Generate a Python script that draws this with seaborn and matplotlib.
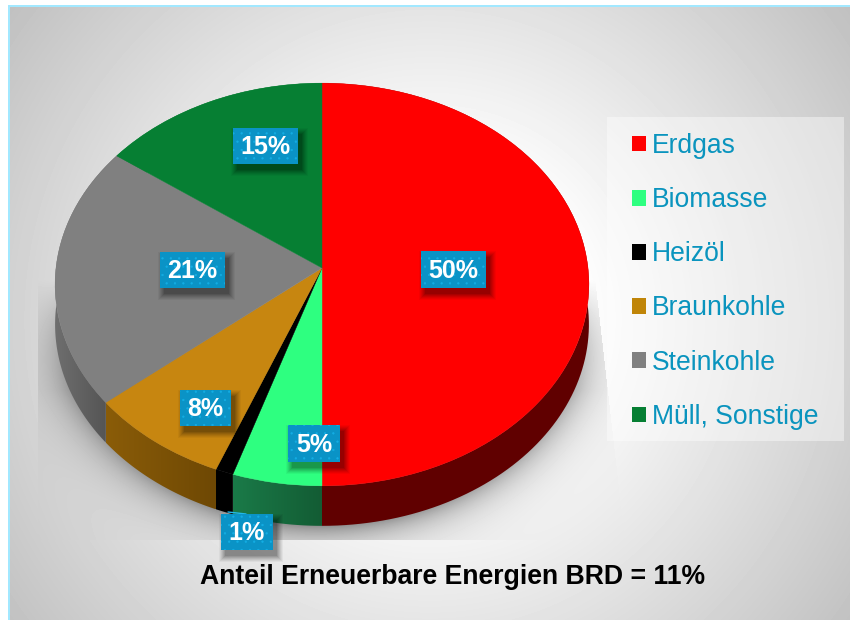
import numpy as np
import matplotlib
matplotlib.use("Agg")
import matplotlib.pyplot as plt
import seaborn as sns
from matplotlib.colors import LinearSegmentedColormap
from matplotlib.patches import Patch, Rectangle, Polygon
from matplotlib.transforms import Transform

categories = ["Erdgas", "Biomasse", "Heizöl", "Braunkohle", "Steinkohle", "Müll, Sonstige"]
shares = [50, 5, 1, 8, 21, 15]
top_colors = ["#FF0000", "#2EFF80", "#000000", "#C78610", "#808080", "#067F33"]
key_colors = ["#FF0000", "#2EFF80", "#000000", "#C08508", "#808080", "#067F33"]
wall_left = ["#600000", "#1A7A48", "#000000", "#8A5C08", "#6E6E6E", "#067F33"]
wall_right = ["#600000", "#135C34", "#000000", "#6E4804", "#505050", "#067F33"]
title = "Anteil Erneuerbare Energien BRD = 11%"
box_spans = [(421, 251, 486, 288), (288, 425, 340, 462), (221, 514, 273, 550),
             (180, 390, 231, 426), (160, 252, 225, 288), (233, 128, 298, 164)]

W, H = 850, 620
CX, CY, A, B, K, DEPTH = 322, 268, 266, 200, 0.0819, 40

sns.set_theme(style="white")
plt.rcParams["font.family"] = ["Liberation Sans", "DejaVu Sans"]
plt.rcParams["hatch.linewidth"] = 0.4
palette = sns.color_palette(top_colors)


class Tilt(Transform):
    """Perspective view of the unit-circle pie, output in canvas pixels."""
    input_dims = 2
    output_dims = 2
    is_separable = False
    has_inverse = False

    def transform_non_affine(self, values):
        v = np.asarray(values, dtype=float)
        d = 1 + K * v[:, 1]
        return np.column_stack([CX + A * v[:, 0] / d, CY - B * v[:, 1] / d])


fig = plt.figure(figsize=(8.5, 6.2), dpi=100, facecolor="white")
ax = fig.add_axes([0, 0, 1, 1])

# pie
wedges, _ = ax.pie(shares, colors=palette, startangle=90, counterclock=False, radius=1,
                   wedgeprops=dict(linewidth=0.3, zorder=4))
tilt = Tilt()
for w, c in zip(wedges, palette):
    w.set_edgecolor(c)
    w.set_transform(tilt + ax.transData)

# side walls: one outline per slice, filled by a left-to-right gradient
for w, cl, cr in zip(wedges, wall_left, wall_right):
    t = np.radians(np.linspace(w.theta1, w.theta2, 120))
    rim = tilt.transform_non_affine(np.column_stack([np.cos(t), np.sin(t)]))
    outline = np.vstack([rim, rim[::-1] + [0, DEPTH]])
    wall = Polygon(outline, closed=True, facecolor="none", edgecolor="none", zorder=3)
    ax.add_patch(wall)
    cmap = LinearSegmentedColormap.from_list("wall", [cl, cr])
    x0, x1, y0, y1 = outline[:, 0].min(), outline[:, 0].max(), outline[:, 1].min(), outline[:, 1].max()
    im = ax.imshow(np.linspace(0, 1, 64)[None, :], cmap=cmap, extent=(x0, x1, y1, y0), aspect="auto", zorder=3)
    im.set_clip_path(wall)

# background
yy, xx = np.mgrid[0:H, 0:W] + 0.5
dist = np.hypot(xx - 430, yy - 320)
bg = 255 - 62 * np.clip((dist - 150) / 370, 0, 1.1)
ell = (np.hypot((xx - 322) / 267, (yy - 302) / 224) - 1) * 235
shade = 0.40 * np.exp(-np.clip(ell, 0, None) / 19)
right_edge = 593 + (yy - 260) * 14 / 123
keep = (yy < 540) & (xx > 38) & (xx < right_edge) & (yy > 250)
fade = np.clip((yy - 280) / 110, 0, 1)
shade = np.where(keep, shade * fade, 0)
bg = bg * (1 - shade)
ax.imshow(bg, cmap="gray", vmin=0, vmax=255, extent=(0, W, H, 0), aspect="auto",
          interpolation="bilinear", zorder=0)
ax.add_patch(Rectangle((0, 0), 8, H, fc="white", ec="none", zorder=1))
ax.add_patch(Rectangle((0, 0), W, 5, fc="white", ec="none", zorder=1))
ax.add_patch(Rectangle((8, 5), 2.2, H, fc="#A2E8FF", ec="none", zorder=1))
ax.add_patch(Rectangle((8, 5), W, 2.2, fc="#A2E8FF", ec="none", zorder=1))

# legend panel
ax.add_patch(Rectangle((607, 117), 237, 324, fc="white", ec="none", alpha=0.42, zorder=2))
handles = [Patch(facecolor=c, edgecolor="none") for c in key_colors]
fs = 19.1
px = fs * 100 / 72
leg = ax.legend(handles, categories, loc="upper left", bbox_to_anchor=(632 / W, 1 - 133 / H),
                bbox_transform=fig.transFigure, frameon=False, fontsize=fs, labelcolor="#0A94BE",
                labelspacing=1.061, handlelength=14 / px, handleheight=14 / px,
                handletextpad=6 / px, borderpad=0, borderaxespad=0)
leg.set_zorder(6)

# value labels
for v, (x0, y0, x1, y1) in zip(shares, box_spans):
    for grow, al in zip((6, 5, 4, 3, 2, 1, 0), (0.04, 0.05, 0.06, 0.07, 0.08, 0.09, 0.10)):
        ax.add_patch(Rectangle((x0 + 4 - grow, y0 + 6 - grow), x1 - x0 + 2 * grow, y1 - y0 + 2 * grow,
                               fc="black", ec="none", alpha=al, zorder=5))
    ax.add_patch(Rectangle((x0, y0), x1 - x0, y1 - y0, facecolor="#0A93C6", edgecolor="#14AEE4",
                           lw=0, hatch="..", zorder=6))
    ax.text((x0 + x1) / 2, (y0 + y1) / 2 + 1, f"{v}%", color="white", fontsize=18, fontweight="bold",
            ha="center", va="center", zorder=7)
ax.plot([228, 246], [512, 514], color="#22B8EA", lw=1, zorder=5)

ax.text(453, 576.5, title, color="black", fontsize=19.2, fontweight="bold", ha="center", va="center", zorder=7)

ax.set_aspect("auto")
ax.set_xlim(0, W)
ax.set_ylim(H, 0)
ax.set_axis_off()
fig.savefig("out.png", dpi=100)
